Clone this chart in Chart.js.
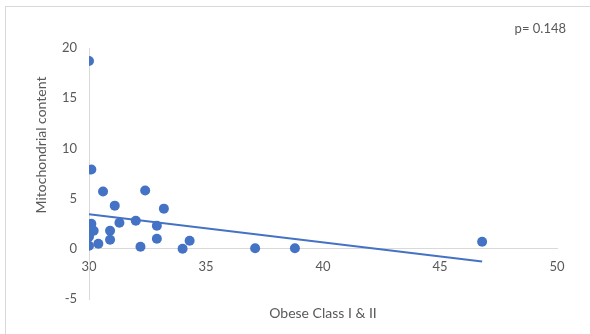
<!DOCTYPE html>
<html>
<head>
<meta charset="utf-8">
<script src="https://cdn.jsdelivr.net/npm/chart.js@4.4.0/dist/chart.umd.min.js"></script>
<style>
html,body{margin:0;padding:0;background:#fff;}
#wrap{width:590px;height:334px;position:relative;}
</style>
</head>
<body>
<div id="wrap"><canvas id="c" width="590" height="334"></canvas></div>
<script>
// Data
const obeseBMI = [30.0, 30.1, 30.1, 30.2, 30.0, 30.0, 30.0, 30.4, 30.6, 30.9, 30.9, 31.1, 31.3, 32.0, 32.2, 32.4, 32.9, 32.9, 33.2, 34.0, 34.3, 37.1, 38.8, 46.8];
const mitoContent = [18.7, 7.9, 2.5, 1.8, 1.4, 1.2, 0.3, 0.5, 5.7, 1.8, 0.9, 4.3, 2.6, 2.8, 0.2, 5.8, 2.3, 1.0, 4.0, 0.0, 0.8, 0.05, 0.05, 0.7];
const trendX = [30.0, 46.8];
const trendY = [3.45, -1.26];
const xTicks = [30, 35, 40, 45, 50];
const yTicks = [-5, 0, 5, 10, 15, 20];
const xTitle = "Obese Class I & II";
const yTitle = "Mitochondrial content";
const pLabel = "p= 0.148";

const FONT = "Lato, 'Open Sans', sans-serif";
const TXT = '#595959';
const BLUE = '#4472C4';

const points = obeseBMI.map((x, i) => ({x: x, y: mitoContent[i]}));
const trend = trendX.map((x, i) => ({x: x, y: trendY[i]}));

const extras = {
  id: 'extras',
  beforeDraw(chart) {
    const ctx = chart.ctx;
    ctx.save();
    ctx.strokeStyle = '#d9d9d9';
    ctx.lineWidth = 1;
    ctx.strokeRect(5.5, 6.5, 620, 400);
    ctx.restore();
  },
  afterDraw(chart) {
    const ctx = chart.ctx;
    const a = chart.chartArea;
    ctx.save();
    ctx.fillStyle = TXT;
    ctx.font = "14px " + FONT;
    ctx.textAlign = 'center';
    ctx.textBaseline = 'middle';
    ctx.fillText(xTitle, (a.left + a.right) / 2, 313);
    ctx.font = "13px " + FONT;
    ctx.textAlign = 'right';
    ctx.fillText(pLabel, 566, 29);
    ctx.font = "14px " + FONT;
    ctx.translate(41, 145);
    ctx.rotate(-Math.PI / 2);
    ctx.textAlign = 'center';
    ctx.fillText(yTitle, 0, 0);
    ctx.restore();
  }
};

new Chart(document.getElementById('c'), {
  type: 'scatter',
  data: {
    datasets: [
      {
        label: 'trend',
        data: trend,
        showLine: true,
        borderColor: BLUE,
        borderWidth: 2,
        pointRadius: 0,
        fill: false,
        order: 0
      },
      {
        label: 'data',
        data: points,
        backgroundColor: BLUE,
        borderColor: BLUE,
        pointRadius: 5,
        pointBorderWidth: 0,
        order: 1
      }
    ]
  },
  options: {
    responsive: false,
    animation: false,
    events: [],
    layout: {padding: {left: 0, right: 33, top: 48, bottom: 35}},
    plugins: {legend: {display: false}, tooltip: {enabled: false}},
    scales: {
      x: {
        type: 'linear',
        min: 30, max: 50,
        position: {y: 0},
        afterFit(s) { s.height = 0; },
        afterBuildTicks(s) { s.ticks = xTicks.map(v => ({value: v})); },
        grid: {display: false, drawTicks: false},
        border: {display: true, color: '#d9d9d9', width: 1},
        ticks: {color: TXT, font: {family: FONT, size: 13}, padding: 10, maxRotation: 0}
      },
      y: {
        type: 'linear',
        min: -5, max: 20,
        position: 'left',
        afterFit(s) { s.width = 89; },
        afterBuildTicks(s) { s.ticks = yTicks.map(v => ({value: v})); },
        grid: {display: false, drawTicks: false},
        border: {display: true, color: '#d9d9d9', width: 1},
        ticks: {color: TXT, font: {family: FONT, size: 13}, padding: 12}
      }
    }
  },
  plugins: [extras]
});
</script>
</body>
</html>
